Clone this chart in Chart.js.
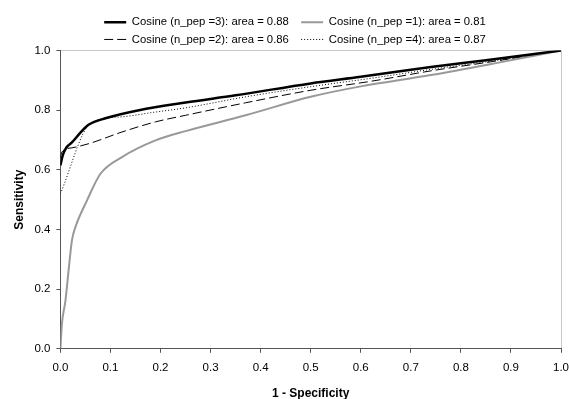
<!DOCTYPE html>
<html>
<head>
<meta charset="utf-8">
<script src="https://cdn.jsdelivr.net/npm/chart.js@4/dist/chart.umd.min.js"></script>
<style>
  html, body { margin: 0; padding: 0; background: #fff; }
  #wrap { position: relative; width: 569px; height: 399px; }
</style>
</head>
<body>
<div id="wrap"><canvas id="rocChart" width="569" height="399"></canvas></div>
<script>
// ROC curves
const pep3X = [0, 0.005, 0.012, 0.023, 0.04, 0.057, 0.09, 0.157, 0.25, 0.35, 0.5, 0.6, 0.74, 0.85, 1.0];
const pep3Y = [0.615, 0.65, 0.675, 0.692, 0.725, 0.752, 0.773, 0.80, 0.826, 0.85, 0.89, 0.912, 0.945, 0.968, 1.0];

const pep1X = [0, 0.003, 0.01, 0.017, 0.023, 0.03, 0.053, 0.08, 0.123, 0.19, 0.25, 0.37, 0.5, 0.6, 0.74, 0.87, 1.0];
const pep1Y = [0, 0.083, 0.16, 0.273, 0.363, 0.408, 0.497, 0.587, 0.643, 0.699, 0.73, 0.783, 0.845, 0.88, 0.918, 0.958, 1.0];

const pep2X = [0, 0.003, 0.023, 0.057, 0.123, 0.19, 0.25, 0.37, 0.5, 0.62, 0.74, 0.87, 1.0];
const pep2Y = [0.64, 0.66, 0.674, 0.688, 0.727, 0.761, 0.783, 0.825, 0.867, 0.897, 0.932, 0.965, 1.0];

const pep4X = [0, 0.06, 0.123, 0.19, 0.25, 0.37, 0.5, 0.62, 0.74, 0.87, 1.0];
const pep4Y = [0.52, 0.755, 0.778, 0.794, 0.808, 0.845, 0.879, 0.907, 0.937, 0.967, 1.0];

const seriesLabels = [
    'Cosine (n_pep =3): area = 0.88',
    'Cosine (n_pep =1): area = 0.81',
    'Cosine (n_pep =2): area = 0.86',
    'Cosine (n_pep =4): area = 0.87'
];

const xTicks = [0, 0.1, 0.2, 0.3, 0.4, 0.5, 0.6, 0.7, 0.8, 0.9, 1.0];
const yTicks = [0, 0.2, 0.4, 0.6, 0.8, 1.0];

function toPoints(xs, ys) {
    return xs.map((x, i) => ({ x: x, y: ys[i] }));
}

const fontFamily = '"Liberation Sans", Arial, sans-serif';
const axisColor = '#555';
const frameColor = '#c8c8c8';

// pulls the plot area up a little under the legend
const legendTrim = {
    id: 'legendTrim',
    beforeLayout(chart) {
        const lg = chart.legend;
        if (lg && !lg._trimmed) {
            const origFit = lg.fit.bind(lg);
            lg.fit = function() {
                origFit();
                this.height -= 4.5;
            };
            lg._trimmed = true;
        }
    }
};

const ctx = document.getElementById('rocChart').getContext('2d');

new Chart(ctx, {
    type: 'line',
    data: {
        datasets: [
            {
                label: seriesLabels[0],
                data: toPoints(pep3X, pep3Y),
                borderColor: '#000',
                borderWidth: 2.5
            },
            {
                label: seriesLabels[1],
                data: toPoints(pep1X, pep1Y),
                borderColor: '#999',
                borderWidth: 2
            },
            {
                label: seriesLabels[2],
                data: toPoints(pep2X, pep2Y),
                borderColor: '#000',
                borderWidth: 1,
                borderDash: [9, 4]
            },
            {
                label: seriesLabels[3],
                data: toPoints(pep4X, pep4Y),
                borderColor: '#000',
                borderWidth: 1,
                borderDash: [1, 2]
            }
        ]
    },
    plugins: [legendTrim],
    options: {
        responsive: false,
        animation: false,
        cubicInterpolationMode: 'monotone',
        elements: {
            point: { radius: 0 },
            line: { fill: false }
        },
        layout: {
            padding: { left: 12, right: -9, top: 10.5, bottom: -2 }
        },
        plugins: {
            tooltip: { enabled: false },
            legend: {
                display: true,
                position: 'top',
                labels: {
                    usePointStyle: true,
                    pointStyle: 'line',
                    pointStyleWidth: 22,
                    boxHeight: 8,
                    padding: 6,
                    color: '#000',
                    font: { family: fontFamily, size: 11.3 },
                    generateLabels: function(chart) {
                        const items = Chart.defaults.plugins.legend.labels.generateLabels(chart);
                        items.forEach((item, i) => {
                            const ds = chart.data.datasets[item.datasetIndex];
                            item.lineDash = ds.borderDash || [];
                            item.lineWidth = ds.borderWidth;
                            item.strokeStyle = ds.borderColor;
                            // left column items get a little extra room
                            if (i % 2 === 0) item.text = item.text + '  ';
                        });
                        return items;
                    }
                }
            }
        },
        scales: {
            x: {
                type: 'linear',
                min: 0,
                max: 1,
                afterBuildTicks: function(axis) {
                    axis.ticks = xTicks.map(v => ({ value: v }));
                },
                afterFit: function(axis) {
                    axis.paddingRight = 8;
                },
                ticks: {
                    color: '#000',
                    padding: 8,
                    font: { family: fontFamily, size: 11.5 },
                    callback: function(value) { return value.toFixed(1); }
                },
                grid: {
                    drawTicks: true,
                    tickLength: 4,
                    tickColor: axisColor,
                    color: function(context) {
                        return context.tick && context.tick.value === 1 ? frameColor : 'rgba(0,0,0,0)';
                    }
                },
                border: { color: axisColor, width: 1 },
                title: {
                    display: true,
                    text: '1 - Specificity',
                    color: '#000',
                    padding: { top: 4, bottom: 0 },
                    font: { family: fontFamily, size: 12, weight: 'bold' }
                }
            },
            y: {
                type: 'linear',
                min: 0,
                max: 1,
                afterBuildTicks: function(axis) {
                    axis.ticks = yTicks.map(v => ({ value: v }));
                },
                ticks: {
                    color: '#000',
                    padding: 6,
                    font: { family: fontFamily, size: 11.5 },
                    callback: function(value) { return value.toFixed(1); }
                },
                grid: {
                    drawTicks: true,
                    tickLength: 4,
                    tickColor: axisColor,
                    color: function(context) {
                        return context.tick && context.tick.value === 1 ? frameColor : 'rgba(0,0,0,0)';
                    }
                },
                border: { color: axisColor, width: 1 },
                title: {
                    display: true,
                    text: 'Sensitivity',
                    color: '#000',
                    padding: { top: 0, bottom: 2 },
                    font: { family: fontFamily, size: 12, weight: 'bold' }
                }
            }
        }
    }
});
</script>
</body>
</html>
